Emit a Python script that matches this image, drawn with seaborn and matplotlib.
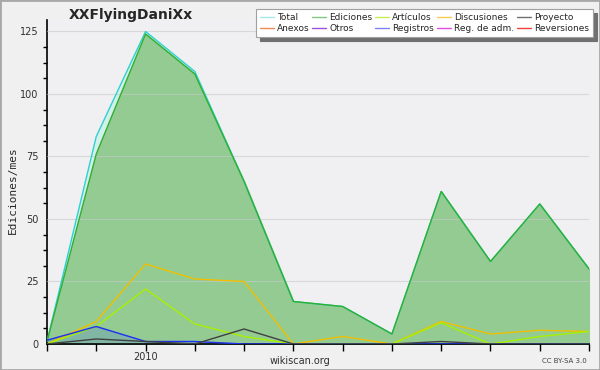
import numpy as np
import pandas as pd
import seaborn as sns
import matplotlib
matplotlib.use("Agg")
from matplotlib import pyplot as plt
from matplotlib.lines import Line2D

# monthly values, one point per tick (12 months)
months = list(range(12))
total = [1, 83, 125, 109, 65, 17, 15, 4, 61, 33, 56, 30]
ediciones = [1, 76, 124, 108, 65, 17, 15, 4, 61, 33, 56, 30]
articulos = [0, 7, 22, 8, 3, 0, 0, 0, 8.5, 0, 3, 5]
discusiones = [0, 9, 32, 26, 25, 0, 3, 0, 9, 4, 5.5, 5]
registros = [1.5, 7, 1, 1, 0, 0, 0, 0, 0, 0, 0, 0]
proyecto = [0, 2, 1, 0, 6, 0, 0, 0, 1, 0, 0, 0]

legend_names = ["Total", "Anexos", "Ediciones", "Otros", "Artículos",
                "Registros", "Discusiones", "Reg. de adm.", "Proyecto", "Reversiones"]
legend_colors = ["#a6e6e6", "#f08a50", "#80c880", "#9a50e0", "#c8ee50",
                 "#8080f0", "#f4cc50", "#e050e0", "#707070", "#f04040"]

df = pd.DataFrame({"mes": months, "Total": total, "Ediciones": ediciones,
                   "Artículos": articulos, "Discusiones": discusiones,
                   "Registros": registros, "Proyecto": proyecto})

sns.set_style("white")
plt.rcParams["font.family"] = ["DejaVu Sans"]

fig = plt.figure(figsize=(6, 3.7), dpi=100, facecolor="#f0f0f0")
ax = fig.add_axes([0.0783, 0.0703, 0.9034, 0.875])
ax.set_facecolor("#f0f0f2")

ax.fill_between(df["mes"], df["Ediciones"], df["Total"], color="#d4f0ea", zorder=1)
ax.fill_between(df["mes"], 0, df["Ediciones"], color="#93cb93", zorder=2)
ax.fill_between(df["mes"], 0, df["Registros"], color="#6090c8", alpha=0.35, zorder=2)

sns.lineplot(data=df, x="mes", y="Total", color="#30d0d0", lw=1, ax=ax, zorder=3)
sns.lineplot(data=df, x="mes", y="Ediciones", color="#30b030", lw=1, ax=ax, zorder=4)
sns.lineplot(data=df, x="mes", y="Discusiones", color="#f0c000", lw=1, ax=ax, zorder=5)
sns.lineplot(data=df, x="mes", y="Artículos", color="#a8f000", lw=1, ax=ax, zorder=5)
sns.lineplot(data=df, x="mes", y="Registros", color="#2030f0", lw=1, ax=ax, zorder=6)
sns.lineplot(data=df, x="mes", y="Proyecto", color="#404040", lw=1, ax=ax, zorder=6)

ax.set_xlim(0, 11)
ax.set_ylim(0, 129.5)
ax.set_yticks([0, 25, 50, 75, 100, 125])
ax.set_yticks(np.arange(0, 126, 6.25), minor=True)
ax.set_xticks(months)
ax.set_xticklabels(["" if m != 2 else "2010" for m in months])
ax.yaxis.grid(True, color="#c8c8c8", lw=0.8, zorder=0)
ax.set_axisbelow(False)
for line in ax.get_ygridlines():
    line.set_zorder(2.5)
    line.set_alpha(0.6)
ax.tick_params(axis="y", which="major", length=5, width=1, color="black",
               labelsize=7, labelcolor="#303030", pad=1)
ax.tick_params(axis="y", which="minor", length=3, width=1, color="black", left=True)
ax.tick_params(axis="x", length=5, width=1, color="black", direction="out",
               labelsize=7, labelcolor="#303030", pad=1, bottom=True)
for side in ["top", "right"]:
    ax.spines[side].set_visible(False)
for side in ["left", "bottom"]:
    ax.spines[side].set_color("black")
    ax.spines[side].set_linewidth(1.2)

ax.set_xlabel("")
ax.set_ylabel("")
fig.text(0.021, 0.487, "Ediciones/mes", fontsize=8, rotation=90,
         family="DejaVu Sans Mono", ha="center", va="center")

fig.text(0.218, 0.96, "XXFlyingDaniXx", fontsize=10, weight="bold", ha="center", va="center")
fig.text(0.5, 0.025, "wikiscan.org", fontsize=7, color="#303030", ha="center", va="center")
fig.text(0.978, 0.024, "CC BY-SA 3.0", fontsize=5, color="#404040", ha="right", va="center")

handles = [Line2D([0], [0], color=c, lw=1) for c in legend_colors]
leg = fig.legend(handles, legend_names, ncol=5, loc="upper right",
                 bbox_to_anchor=(0.988, 0.975), fontsize=6.5, frameon=True,
                 fancybox=False, shadow={"color": "#707070", "alpha": 1, "ox": 3, "oy": -3},
                 handlelength=1.5, handletextpad=0.35, columnspacing=0.35,
                 labelspacing=0.2, borderpad=0.45, borderaxespad=0)
leg.get_frame().set_edgecolor("#a0a0a0")
leg.get_frame().set_linewidth(0.8)

fig.patches.append(plt.Rectangle((0, 0), 1, 1, transform=fig.transFigure,
                                 fill=False, edgecolor="#a8a8a8", lw=2))

fig.savefig("out.png", dpi=100, facecolor=fig.get_facecolor())
